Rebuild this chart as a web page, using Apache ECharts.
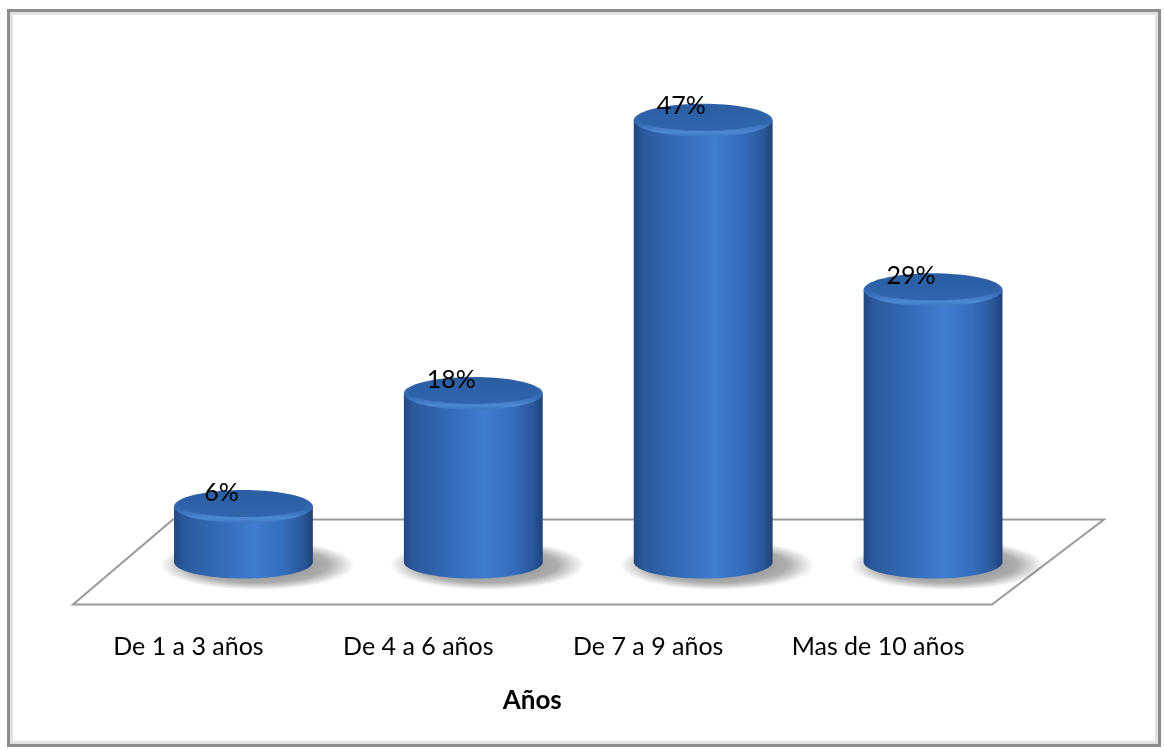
<!DOCTYPE html>
<html>
<head>
<meta charset="utf-8">
<title>Años</title>
<script src="https://cdn.jsdelivr.net/npm/echarts@6/dist/echarts.min.js"></script>
<style>
  html, body { margin: 0; padding: 0; background: #ffffff; }
  #chart { width: 1164px; height: 750px; }
</style>
</head>
<body>
<div id="chart"></div>
<script>
// Categories and percentage values
const categories = ['De 1 a 3 años', 'De 4 a 6 años', 'De 7 a 9 años', 'Mas de 10 años'];
const percentages = [6, 18, 47, 29];
const axisTitle = 'Años';
const valueMax = 50;

const FONT = 'Lato, "Liberation Sans", sans-serif';

// Points around an ellipse (or part of it)
function ellipsePoints(cx, cy, rx, ry, a0, a1, n) {
  const pts = [];
  for (let i = 0; i <= n; i++) {
    const a = a0 + (a1 - a0) * i / n;
    pts.push([cx + rx * Math.cos(a), cy + ry * Math.sin(a)]);
  }
  return pts;
}

// White floor under the cylinders, anchored to the grid and the zero line
function renderFloor(params, api) {
  const cs = params.coordSys;
  const zeroY = api.coord([0, 0])[1];
  const left = cs.x, right = cs.x + cs.width;
  const backY = zeroY - 43.5, frontY = zeroY + 41.5;
  return {
    type: 'polygon',
    shape: { points: [
      [left + 44.5, backY], [right + 56, backY],
      [right - 56, frontY], [left - 55.5, frontY]
    ] },
    style: { fill: '#ffffff', stroke: '#9a9a9a', lineWidth: 2 },
    z2: 0
  };
}

// One 3D cylinder per category, height from its value
function renderCylinder(params, api) {
  const idx = api.value(0);
  const v = api.value(1);
  const top = api.coord([idx, v]);
  const base = api.coord([idx, 0]);
  const band = api.size([1, 0])[0];
  const rx = band * 0.302;
  const ry = 16.5;
  const cx = top[0];
  const yt = top[1];
  const yb = base[1] - 1;

  // body: left side down, lower half ellipse, right side up
  const bodyPts = [[cx - rx, yt]]
    .concat(ellipsePoints(cx, yb, rx, ry, Math.PI, 0, 60))
    .concat([[cx + rx, yt]]);

  const shadowR = rx + 28;
  return {
    type: 'group',
    children: [
      {
        type: 'circle',
        shape: { cx: 0, cy: 0, r: shadowR },
        x: cx + 14, y: yb + 3,
        scaleX: 1, scaleY: 25 / shadowR,
        style: {
          fill: {
            type: 'radial', x: 0.5, y: 0.5, r: 0.5,
            colorStops: [
              { offset: 0, color: 'rgba(0,0,0,0.5)' },
              { offset: 0.72, color: 'rgba(0,0,0,0.32)' },
              { offset: 1, color: 'rgba(0,0,0,0)' }
            ]
          }
        }
      },
      {
        type: 'polygon',
        shape: { points: bodyPts },
        style: {
          fill: {
            type: 'linear', x: 0, y: 0, x2: 1, y2: 0,
            colorStops: [
              { offset: 0, color: '#214781' },
              { offset: 0.07, color: '#2b599c' },
              { offset: 0.3, color: '#3469b5' },
              { offset: 0.58, color: '#3e7dcf' },
              { offset: 0.78, color: '#356ebd' },
              { offset: 0.93, color: '#2a579a' },
              { offset: 1, color: '#1f4276' }
            ]
          }
        }
      },
      {
        type: 'polygon',
        shape: { points: ellipsePoints(cx, yt, rx, ry, 0, Math.PI * 2, 80) },
        style: {
          fill: {
            type: 'linear', x: 0, y: 0, x2: 0, y2: 1,
            colorStops: [
              { offset: 0, color: '#2d5fa5' },
              { offset: 0.6, color: '#3569b3' },
              { offset: 0.86, color: '#4e88d3' },
              { offset: 1, color: '#3b74c2' }
            ]
          }
        }
      },
      {
        type: 'polygon',
        shape: { points: ellipsePoints(cx, yt - 2, rx - 4, ry - 4, 0, Math.PI * 2, 80) },
        style: {
          fill: {
            type: 'linear', x: 0, y: 0, x2: 0, y2: 1,
            colorStops: [
              { offset: 0, color: '#2b5da2' },
              { offset: 1, color: '#3166ae' }
            ]
          }
        }
      },
      {
        type: 'text',
        x: cx - 22, y: yt - 14,
        style: {
          text: v + '%',
          fontFamily: FONT, fontSize: 25,
          fill: '#000000',
          align: 'center', verticalAlign: 'middle'
        }
      }
    ]
  };
}

const chart = echarts.init(document.getElementById('chart'), null, { renderer: 'canvas' });

chart.setOption({
  backgroundColor: '#ffffff',
  animation: false,
  graphic: [
    {
      type: 'rect',
      shape: { x: 11.5, y: 13.5, width: 1145, height: 729 },
      style: { fill: 'none', stroke: '#e2e2e2', lineWidth: 3 },
      z: 0
    },
    {
      type: 'rect',
      shape: { x: 8.5, y: 10.5, width: 1151, height: 735 },
      style: { fill: 'none', stroke: '#8c8c8c', lineWidth: 3 },
      z: 0
    }
  ],
  grid: { left: 128.5, right: 116, top: 92, bottom: 187 },
  xAxis: {
    type: 'category',
    data: categories,
    axisLine: { show: false },
    axisTick: { show: false },
    axisLabel: {
      margin: 71,
      padding: [0, 110, 0, 0],
      fontFamily: FONT, fontSize: 25, color: '#000000'
    },
    name: axisTitle,
    nameLocation: 'middle',
    nameGap: 125,
    nameTextStyle: {
      fontFamily: FONT, fontSize: 26, fontWeight: 'bold', color: '#000000',
      padding: [0, 112, 0, 0]
    }
  },
  yAxis: {
    type: 'value',
    min: 0, max: valueMax,
    show: false,
    splitLine: { show: false }
  },
  series: [
    {
      type: 'custom',
      renderItem: renderFloor,
      data: [[0, 0]],
      z: 1,
      silent: true
    },
    {
      type: 'custom',
      renderItem: renderCylinder,
      data: percentages.map((p, i) => [i, p]),
      encode: { x: 0, y: 1 },
      z: 2
    }
  ]
});
</script>
</body>
</html>
